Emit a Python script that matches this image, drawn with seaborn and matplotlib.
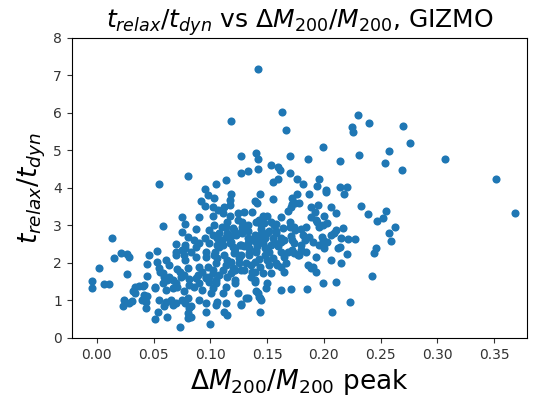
import matplotlib
matplotlib.use("Agg")
import matplotlib.pyplot as plt
import seaborn as sns
import pandas as pd

# peak Delta M200 / M200 for each halo
dm_peak = [
    0.055, 0.080, 0.095, 0.105, 0.098, 0.092, 0.103, 0.095, 0.102, 0.107,
    0.075, 0.090, 0.102, 0.078, 0.058, 0.087, 0.103, 0.075, 0.080, 0.086,
    0.095, 0.102, 0.013, 0.070, 0.078, 0.090, 0.099, 0.106, 0.021, 0.015,
    0.027, 0.028, 0.046, 0.053, 0.061, 0.070, 0.077, 0.083, 0.087, 0.096,
    0.103, 0.002, 0.044, 0.053, 0.055, 0.056, 0.064, 0.071, 0.080, 0.090,
    0.098, 0.105, -0.004, -0.004, 0.006, 0.011, 0.027, 0.044, 0.059, 0.067,
    0.074, 0.081, 0.089, 0.096, 0.105, 0.034, 0.032, 0.037, 0.041, 0.051,
    0.061, 0.071, 0.077, 0.086, 0.093, 0.102, 0.023, 0.024, 0.028, 0.031,
    0.040, 0.044, 0.043, 0.055, 0.059, 0.065, 0.070, 0.080, 0.083, 0.090,
    0.096, 0.105, 0.054, 0.062, 0.051, 0.080, 0.080, 0.096, 0.073, 0.100,
    # upper middle
    0.142, 0.163, 0.118, 0.167, 0.230, 0.225, 0.226, 0.240, 0.199, 0.127,
    0.140, 0.142, 0.170, 0.186, 0.214, 0.231, 0.127, 0.133, 0.142, 0.153,
    0.160, 0.161, 0.170, 0.114, 0.155, 0.160, 0.176, 0.182, 0.196, 0.194,
    0.214, 0.220, 0.202,
    # right side
    0.270, 0.276, 0.257, 0.254, 0.269, 0.307, 0.352, 0.368, 0.233, 0.239,
    0.247, 0.252, 0.255, 0.263, 0.257, 0.259, 0.246, 0.244, 0.242,
    # dense core
    0.218, 0.118, 0.144, 0.176, 0.187, 0.202, 0.155, 0.172, 0.178, 0.171,
    0.168, 0.195, 0.112, 0.111, 0.117, 0.124, 0.130, 0.137, 0.146, 0.150,
    0.162, 0.189, 0.193, 0.200, 0.115, 0.120, 0.133, 0.140, 0.153, 0.170,
    0.175, 0.184, 0.196, 0.203, 0.211, 0.217, 0.209, 0.099, 0.108, 0.115,
    0.123, 0.128, 0.133, 0.139, 0.143, 0.148, 0.156, 0.158, 0.172, 0.180,
    0.187, 0.196, 0.200, 0.199, 0.221, 0.227, 0.212, 0.111, 0.120, 0.127,
    0.134, 0.140, 0.148, 0.152, 0.162, 0.172, 0.177, 0.184, 0.193, 0.220,
    0.206, 0.215, 0.106, 0.115, 0.125, 0.131, 0.139, 0.150, 0.159, 0.167,
    0.186, 0.189, 0.102, 0.111, 0.120, 0.137, 0.146, 0.153, 0.099, 0.115,
    0.139, 0.150, 0.211, 0.111, 0.140, 0.149, 0.162, 0.171, 0.185, 0.131,
    0.143, 0.127, 0.145, 0.112, 0.115, 0.144, 0.223, 0.207,
    0.117, 0.117, 0.114, 0.106, 0.114, 0.118,
    0.139, 0.141, 0.175, 0.172, 0.189, 0.192, 0.206, 0.211, 0.124, 0.128,
    0.143, 0.147, 0.156, 0.170, 0.174, 0.180, 0.194, 0.199, 0.121, 0.127,
    0.133, 0.139, 0.150, 0.158, 0.162, 0.171, 0.198, 0.206, 0.215,
    0.108, 0.117, 0.122, 0.114, 0.118, 0.122, 0.102, 0.099, 0.105, 0.114,
    0.122, 0.101, 0.106, 0.114, 0.081, 0.083, 0.075, 0.078, 0.067, 0.061,
    0.043, 0.042, 0.042, 0.051, 0.058, 0.062, 0.067, 0.070, 0.081, 0.087,
    0.090, 0.070, 0.075, 0.078, 0.087, 0.096, 0.078, 0.058, 0.064, 0.073,
    0.077, 0.093, 0.096, 0.034,
    0.126, 0.133, 0.140, 0.146, 0.153, 0.162, 0.174, 0.183, 0.203, 0.214,
    0.121, 0.127, 0.134, 0.140, 0.148, 0.155, 0.158, 0.174, 0.178, 0.199,
    0.125, 0.127, 0.136, 0.139, 0.144, 0.152, 0.162, 0.165, 0.190, 0.193,
    0.121, 0.122, 0.136, 0.139, 0.124, 0.133, 0.127, 0.142, 0.144, 0.199,
    0.104, 0.110, 0.118, 0.122, 0.130, 0.136, 0.141, 0.145, 0.150, 0.155,
    0.160, 0.165, 0.168, 0.180, 0.182, 0.190, 0.158, 0.164, 0.128, 0.110,
    0.145, 0.134, 0.143, 0.112, 0.165, 0.118, 0.130, 0.108, 0.145, 0.152,
]

# t_relax / t_dyn for the same halos
t_ratio = [
    4.11, 4.33, 3.96, 4.10, 3.81, 3.66, 3.72, 3.52, 3.48, 3.41,
    3.22, 3.22, 3.25, 3.03, 2.99, 2.91, 3.01, 2.83, 2.70, 2.61,
    2.66, 2.75, 2.66, 2.51, 2.39, 2.53, 2.54, 2.48, 2.26, 2.14,
    2.23, 2.17, 2.21, 2.33, 2.08, 2.30, 2.21, 2.30, 2.17, 2.30,
    2.21, 1.86, 1.97, 2.03, 1.86, 1.77, 1.95, 1.83, 1.86, 1.89,
    1.90, 1.99, 1.53, 1.34, 1.44, 1.44, 1.70, 1.66, 1.63, 1.55,
    1.62, 1.57, 1.68, 1.59, 1.55, 1.35, 1.26, 1.39, 1.39, 1.32,
    1.28, 1.37, 1.24, 1.37, 1.28, 1.32, 0.85, 1.01, 0.94, 0.99,
    1.01, 1.12, 0.79, 1.01, 0.85, 1.01, 0.93, 1.06, 0.85, 1.01,
    0.93, 0.88, 0.70, 0.57, 0.50, 0.66, 0.52, 0.68, 0.30, 0.37,
    # upper middle
    7.17, 6.02, 5.79, 5.55, 5.95, 5.62, 5.50, 5.73, 5.10, 4.84,
    4.94, 4.76, 4.84, 4.76, 4.73, 4.88, 4.39, 4.46, 4.51, 4.61,
    4.55, 4.48, 4.39, 4.21, 4.17, 4.24, 4.24, 4.11, 4.24, 4.04,
    4.02, 4.02, 3.95,
    # right side
    5.64, 5.21, 4.99, 4.66, 4.48, 4.76, 4.24, 3.32, 3.52, 3.30,
    3.13, 3.21, 3.39, 2.95, 2.81, 2.59, 2.39, 2.26, 1.66,
    # dense core
    3.84, 3.84, 3.84, 3.84, 3.84, 3.88, 3.70, 3.72, 3.59, 3.50,
    3.39, 3.55, 3.50, 3.33, 3.24, 3.33, 3.37, 3.37, 3.24, 3.24,
    3.22, 3.22, 3.15, 3.24, 3.10, 2.92, 3.01, 3.10, 3.10, 2.97,
    2.88, 2.97, 2.97, 3.06, 2.88, 2.92, 2.79, 2.88, 2.79, 2.79,
    2.75, 2.79, 2.66, 2.70, 2.61, 2.66, 2.57, 2.79, 2.61, 2.48,
    2.70, 2.48, 2.39, 2.61, 2.63, 2.63, 2.39, 2.48, 2.43, 2.48,
    2.39, 2.35, 2.39, 2.30, 2.30, 2.35, 2.21, 2.30, 2.17, 2.24,
    2.08, 2.01, 2.12, 2.08, 2.12, 1.99, 2.03, 2.08, 1.95, 1.99,
    1.95, 1.86, 1.81, 1.81, 1.86, 1.77, 1.72, 1.72, 1.63, 1.63,
    1.55, 1.46, 1.50, 1.19, 1.24, 1.32, 1.28, 1.30, 1.30, 1.06,
    1.10, 0.91, 1.01, 0.70, 0.61, 0.68, 0.97, 0.68,
    3.68, 3.55, 2.97, 2.66, 2.70, 2.57,
    3.66, 3.59, 3.61, 3.57, 3.49, 3.37, 3.50, 3.33, 3.15, 3.10,
    3.15, 3.07, 3.01, 3.10, 2.96, 2.90, 3.10, 3.01, 2.88, 2.83,
    2.84, 2.75, 2.79, 2.84, 2.66, 2.73, 2.70, 2.75, 2.66,
    2.43, 2.53, 2.39, 1.95, 2.03, 1.81, 1.72, 1.50, 1.46, 1.37,
    1.46, 1.19, 0.97, 0.93, 0.79, 0.57, 1.01, 0.93, 0.88, 0.97,
    0.97, 1.15, 1.41, 1.37, 1.46, 1.55, 1.32, 1.46, 1.41, 1.59,
    1.46, 2.21, 2.35, 2.08, 2.43, 2.17, 2.48, 1.72, 1.63, 1.77,
    1.68, 1.77, 1.63, 1.19,
    2.48, 2.53, 2.57, 2.53, 2.48, 2.57, 2.53, 2.61, 2.57, 2.43,
    2.26, 2.21, 2.26, 2.30, 2.21, 2.12, 1.99, 2.26, 2.21, 2.48,
    1.99, 1.81, 1.95, 1.77, 1.90, 1.95, 1.90, 1.77, 1.90, 1.77,
    1.81, 1.55, 1.63, 1.50, 1.19, 1.06, 0.88, 1.19, 1.06, 1.46,
    2.30, 2.62, 2.72, 2.30, 2.45, 2.62, 2.45, 2.78, 2.40, 2.66,
    2.45, 2.62, 2.30, 2.35, 2.75, 2.55, 3.05, 2.92, 2.95, 2.95,
    3.00, 2.20, 2.10, 2.20, 2.15, 1.72, 1.82, 1.68, 2.90, 2.85,
]

df = pd.DataFrame({"dm": dm_peak, "tr": t_ratio})

fig, ax = plt.subplots(figsize=(5.44, 3.99), dpi=100)
fig.subplots_adjust(left=0.132, right=0.969, top=0.905, bottom=0.153)

sns.scatterplot(data=df, x="dm", y="tr", ax=ax, color="#1f77b4",
                s=34, linewidth=0, alpha=1)

ax.set_xlim(-0.022, 0.379)
ax.set_ylim(0, 8)
ax.set_xticks([0.00, 0.05, 0.10, 0.15, 0.20, 0.25, 0.30, 0.35])
ax.set_xticklabels(["0.00", "0.05", "0.10", "0.15", "0.20", "0.25", "0.30", "0.35"])
ax.tick_params(labelsize=10, colors="#333333")
ax.set_title(r"$t_{relax}/t_{dyn}$ vs $\Delta M_{200}/M_{200}$, GIZMO", fontsize=18)
ax.set_xlabel(r"$\Delta M_{200}/M_{200}$ peak", fontsize=19)
ax.set_ylabel(r"$t_{relax}/t_{dyn}$", fontsize=19)

fig.savefig("out.png", dpi=100)
